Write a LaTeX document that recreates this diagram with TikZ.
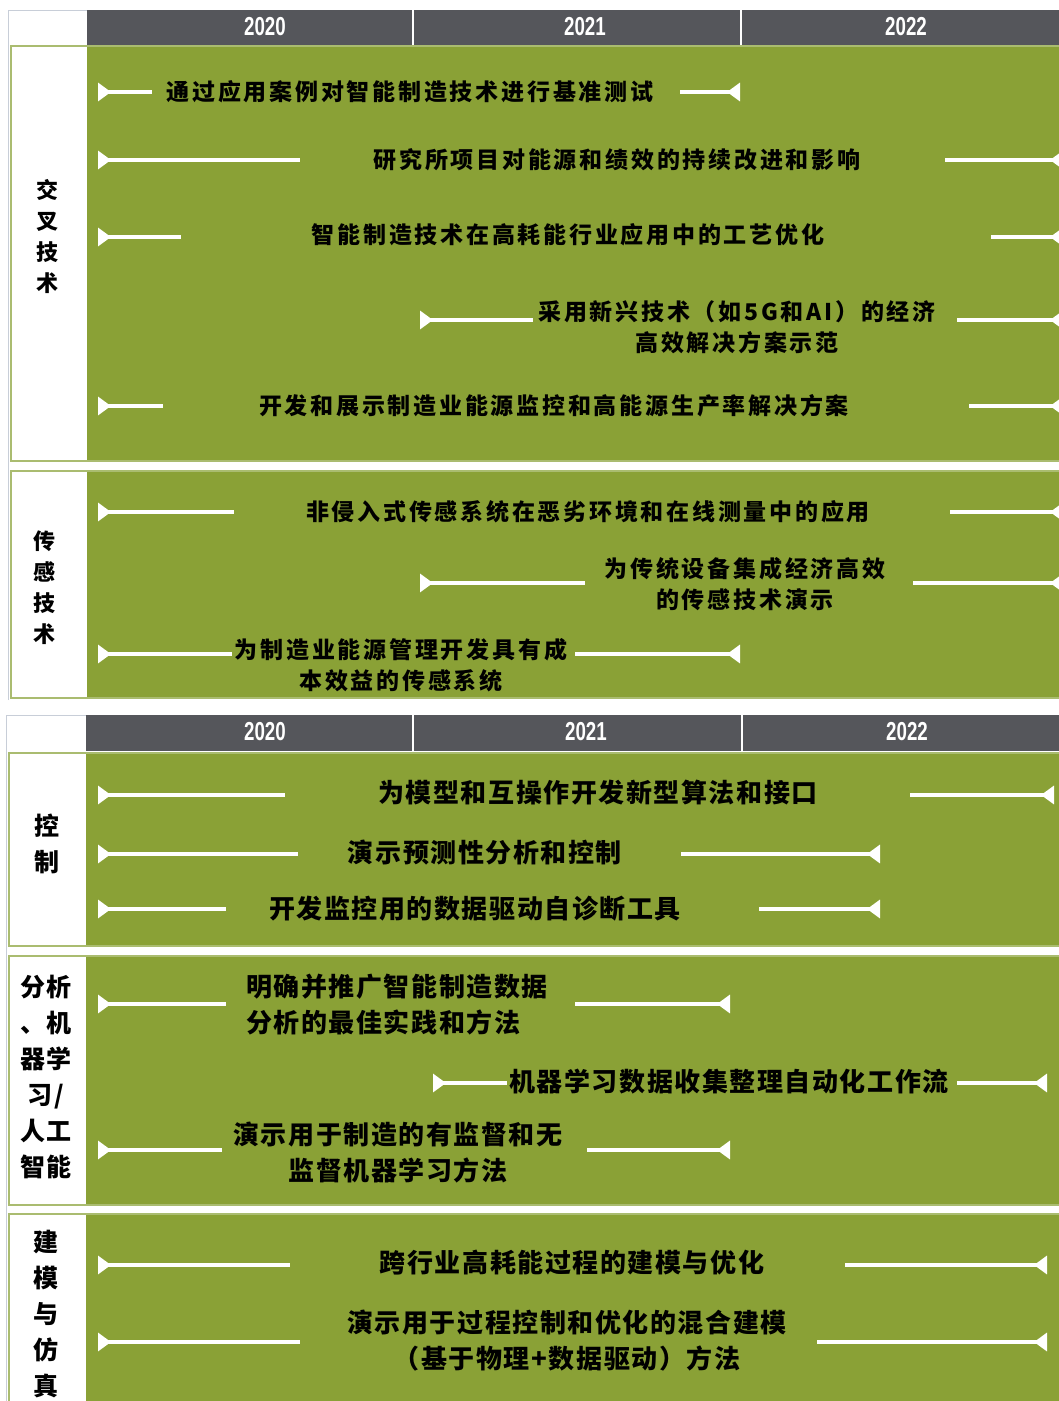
\documentclass[tikz,border=0pt]{standalone}
\usepackage{fontspec}
\usetikzlibrary{arrows.meta}
\newfontfamily\cjka[LetterSpace=12]{Noto Sans CJK SC}
\newfontfamily\cjkb[LetterSpace=6]{Noto Sans CJK SC}
\newfontfamily\yearfont{Liberation Sans}
\definecolor{olive}{RGB}{138,161,54}
\definecolor{frameg}{RGB}{170,188,112}
\definecolor{headg}{RGB}{85,86,91}
\definecolor{outerg}{RGB}{200,206,216}
\tikzset{
  seg/.style={white, line width=4pt},
  lseg/.style={seg, {Triangle[reversed,length=13pt,width=18pt]}-},
  rseg/.style={seg, -{Triangle[reversed,length=13pt,width=18pt]}},
  ta/.style={inner sep=0pt, align=center, font=\cjka\bfseries\fontsize{23}{31}\selectfont},
  tb/.style={inner sep=0pt, align=center, font=\cjkb\bfseries\fontsize{26}{36}\selectfont},
  lab/.style={inner sep=0pt, align=center},
  yr/.style={inner sep=0pt, text=white, font=\yearfont\bfseries\fontsize{26}{26}\selectfont},
  frame/.style={draw=frameg, line width=1.5pt},
}
\newcommand\yr[1]{\scalebox{0.72}[1]{#1}}
\begin{document}
\begin{tikzpicture}[x=1pt,y=-1pt]
\useasboundingbox (0,0) rectangle (1059,1401);
\clip (0,0) rectangle (1059,1401);
% ================= TOP PANEL =================
\draw[outerg, line width=1pt] (8,700) -- (8,10) -- (87,10);
\fill[headg] (87,10) rectangle (1062,46);
\draw[white, line width=2pt] (413,10) -- (413,46) (741,10) -- (741,46);
\node[yr] (y1a) at (265,27) {\yr{2020}};
\node[yr] (y2a) at (585,27) {\yr{2021}};
\node[yr] (y3a) at (906,27) {\yr{2022}};
% section 1
\fill[white] (11,46) rectangle (87,461);
\fill[olive] (87,46) rectangle (1062,461);
\draw[frame] (11,46) rectangle (1064,461);
\node[lab, font=\cjka\bfseries\fontsize{22}{31}\selectfont] (s1) at (47,236.5) {交\\叉\\技\\术};
% section 2
\fill[white] (11,471) rectangle (87,698);
\fill[olive] (87,471) rectangle (1062,698);
\draw[frame] (11,471) rectangle (1064,698);
\node[lab, font=\cjka\bfseries\fontsize{22}{31}\selectfont] (s2) at (45,587.5) {传\\感\\技\\术};

% rows section 1
\node[ta] (t1) at (410,92) {通过应用案例对智能制造技术进行基准测试};
\coordinate (t1la) at (98,92); \coordinate (t1lb) at (152,92);
\coordinate (t1ra) at (680,92); \coordinate (t1rb) at (740,92);
\draw[lseg] (t1la) -- (t1lb); \draw[rseg] (t1ra) -- (t1rb);

\node[ta] (t2) at (617,160) {研究所项目对能源和绩效的持续改进和影响};
\coordinate (t2la) at (98,160); \coordinate (t2lb) at (300,160);
\coordinate (t2ra) at (945,160); \coordinate (t2rb) at (1063,160);
\draw[lseg] (t2la) -- (t2lb); \draw[rseg] (t2ra) -- (t2rb);

\node[ta] (t3) at (568,235) {智能制造技术在高耗能行业应用中的工艺优化};
\coordinate (t3la) at (98,237); \coordinate (t3lb) at (181,237);
\coordinate (t3ra) at (991,237); \coordinate (t3rb) at (1063,237);
\draw[lseg] (t3la) -- (t3lb); \draw[rseg] (t3ra) -- (t3rb);

\node[ta] (t4) at (737,327.5) {采用新兴技术（如5G和AI）的经济\\高效解决方案示范};
\coordinate (t4la) at (420,320); \coordinate (t4lb) at (533,320);
\coordinate (t4ra) at (957,320); \coordinate (t4rb) at (1063,320);
\draw[lseg] (t4la) -- (t4lb); \draw[rseg] (t4ra) -- (t4rb);

\node[ta] (t5) at (554,406) {开发和展示制造业能源监控和高能源生产率解决方案};
\coordinate (t5la) at (98,406); \coordinate (t5lb) at (163,406);
\coordinate (t5ra) at (969,406); \coordinate (t5rb) at (1063,406);
\draw[lseg] (t5la) -- (t5lb); \draw[rseg] (t5ra) -- (t5rb);

% rows section 2
\node[ta] (u1) at (588,512) {非侵入式传感系统在恶劣环境和在线测量中的应用};
\coordinate (u1la) at (98,512); \coordinate (u1lb) at (234,512);
\coordinate (u1ra) at (950,512); \coordinate (u1rb) at (1063,512);
\draw[lseg] (u1la) -- (u1lb); \draw[rseg] (u1ra) -- (u1rb);

\node[ta] (u2) at (745,584.5) {为传统设备集成经济高效\\的传感技术演示};
\coordinate (u2la) at (420,583); \coordinate (u2lb) at (585,583);
\coordinate (u2ra) at (913,583); \coordinate (u2rb) at (1063,583);
\draw[lseg] (u2la) -- (u2lb); \draw[rseg] (u2ra) -- (u2rb);

\node[ta] (u3) at (401,665.5) {为制造业能源管理开发具有成\\本效益的传感系统};
\coordinate (u3la) at (98,654); \coordinate (u3lb) at (232,654);
\coordinate (u3ra) at (575,654); \coordinate (u3rb) at (740,654);
\draw[lseg] (u3la) -- (u3lb); \draw[rseg] (u3ra) -- (u3rb);

% ================= BOTTOM PANEL =================
\draw[outerg, line width=1pt] (6,1401) -- (6,715) -- (86,715);
\fill[headg] (86,715) rectangle (1062,751);
\draw[white, line width=2pt] (413,715) -- (413,751) (742,715) -- (742,751);
\node[yr] (y1b) at (265,732) {\yr{2020}};
\node[yr] (y2b) at (586,732) {\yr{2021}};
\node[yr] (y3b) at (907,732) {\yr{2022}};
% section control
\fill[white] (9,753) rectangle (86,946);
\fill[olive] (86,753) rectangle (1062,946);
\draw[frame] (9,753) rectangle (1064,946);
\node[lab, font=\cjkb\bfseries\fontsize{25}{36}\selectfont] (s3) at (47,844) {控\\制};
% section analytics
\fill[white] (9,956) rectangle (86,1205);
\fill[olive] (86,956) rectangle (1062,1205);
\draw[frame] (9,956) rectangle (1064,1205);
\node[lab, font=\cjkb\bfseries\fontsize{25}{36}\selectfont] (s4) at (46,1077) {分析\\、机\\器学\\习/\\人工\\智能};
% section modelling
\fill[white] (9,1214) rectangle (86,1410);
\fill[olive] (86,1214) rectangle (1062,1410);
\draw[frame] (9,1214) rectangle (1064,1410);
\node[lab, font=\cjkb\bfseries\fontsize{25}{36}\selectfont] (s5) at (46,1314) {建\\模\\与\\仿\\真};

% rows control
\node[tb] (c1) at (598,793) {为模型和互操作开发新型算法和接口};
\coordinate (c1la) at (98,795); \coordinate (c1lb) at (285,795);
\coordinate (c1ra) at (910,795); \coordinate (c1rb) at (1054,795);
\draw[lseg] (c1la) -- (c1lb); \draw[rseg] (c1ra) -- (c1rb);

\node[tb] (c2) at (485,853) {演示预测性分析和控制};
\coordinate (c2la) at (98,854); \coordinate (c2lb) at (298,854);
\coordinate (c2ra) at (681,854); \coordinate (c2rb) at (880,854);
\draw[lseg] (c2la) -- (c2lb); \draw[rseg] (c2ra) -- (c2rb);

\node[tb] (c3) at (475,909) {开发监控用的数据驱动自诊断工具};
\coordinate (c3la) at (98,909); \coordinate (c3lb) at (226,909);
\coordinate (c3ra) at (759,909); \coordinate (c3rb) at (880,909);
\draw[lseg] (c3la) -- (c3lb); \draw[rseg] (c3ra) -- (c3rb);

% rows analytics
\node[tb, align=left, anchor=west] (a1) at (246,1004.5) {明确并推广智能制造数据\\分析的最佳实践和方法};
\coordinate (a1la) at (98,1004); \coordinate (a1lb) at (226,1004);
\coordinate (a1ra) at (575,1004); \coordinate (a1rb) at (730,1004);
\draw[lseg] (a1la) -- (a1lb); \draw[rseg] (a1ra) -- (a1rb);

\node[tb] (a2) at (729,1082) {机器学习数据收集整理自动化工作流};
\coordinate (a2la) at (433,1083); \coordinate (a2lb) at (507,1083);
\coordinate (a2ra) at (957,1083); \coordinate (a2rb) at (1047,1083);
\draw[lseg] (a2la) -- (a2lb); \draw[rseg] (a2ra) -- (a2rb);

\node[tb] (a3) at (398,1153) {演示用于制造的有监督和无\\监督机器学习方法};
\coordinate (a3la) at (98,1150); \coordinate (a3lb) at (222,1150);
\coordinate (a3ra) at (587,1150); \coordinate (a3rb) at (730,1150);
\draw[lseg] (a3la) -- (a3lb); \draw[rseg] (a3ra) -- (a3rb);

% rows modelling
\node[tb] (m1) at (572,1263) {跨行业高耗能过程的建模与优化};
\coordinate (m1la) at (98,1265); \coordinate (m1lb) at (290,1265);
\coordinate (m1ra) at (845,1265); \coordinate (m1rb) at (1047,1265);
\draw[lseg] (m1la) -- (m1lb); \draw[rseg] (m1ra) -- (m1rb);

\node[tb] (m2) at (567,1341) {演示用于过程控制和优化的混合建模\\（基于物理+数据驱动）方法};
\coordinate (m2la) at (98,1342); \coordinate (m2lb) at (300,1342);
\coordinate (m2ra) at (817,1342); \coordinate (m2rb) at (1047,1342);
\draw[lseg] (m2la) -- (m2lb); \draw[rseg] (m2ra) -- (m2rb);
\end{tikzpicture}
\end{document}
